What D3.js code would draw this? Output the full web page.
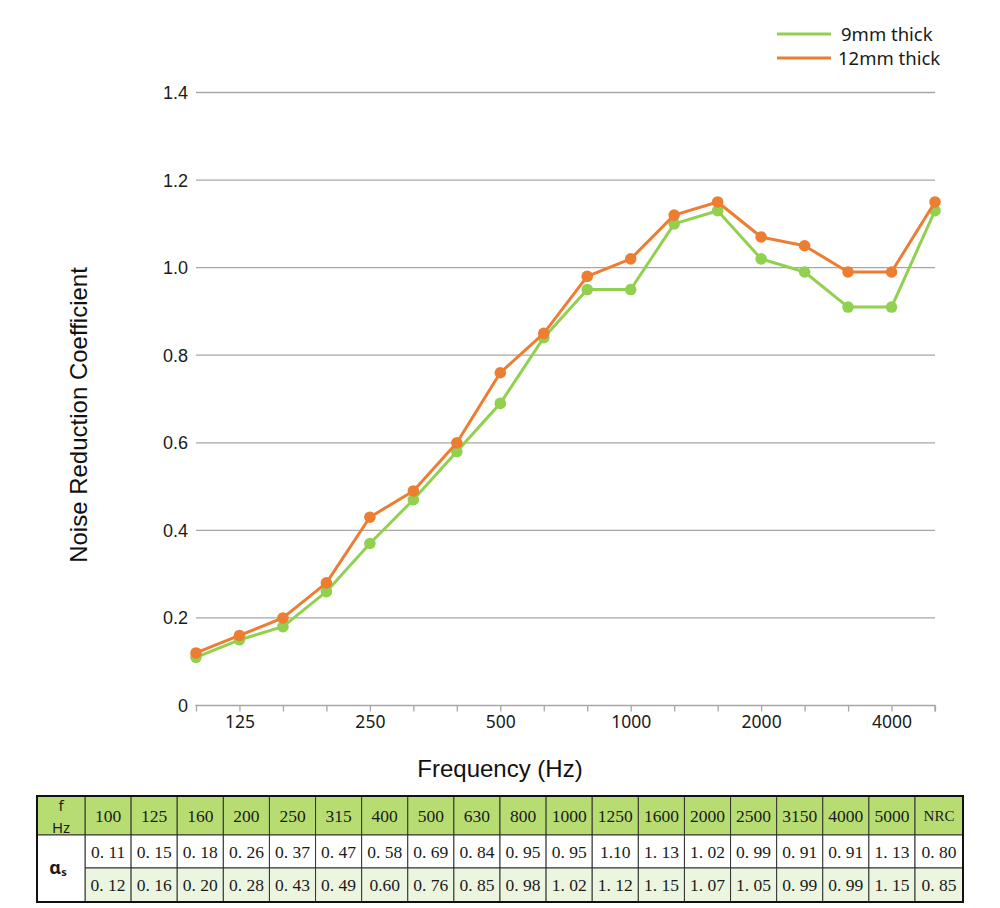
<!DOCTYPE html>
<html><head><meta charset="utf-8">
<script src="https://cdn.jsdelivr.net/npm/d3@7/dist/d3.min.js"></script>
<style>body{margin:0;background:#fff}svg{display:block}</style>
</head><body>
<svg id="c" width="1000" height="908"></svg>
<script>
const freqs = ["100","125","160","200","250","315","400","500","630","800","1000","1250","1600","2000","2500","3150","4000","5000"];
const thick9 = [0.11,0.15,0.18,0.26,0.37,0.47,0.58,0.69,0.84,0.95,0.95,1.10,1.13,1.02,0.99,0.91,0.91,1.13];
const thick12 = [0.12,0.16,0.20,0.28,0.43,0.49,0.60,0.76,0.85,0.98,1.02,1.12,1.15,1.07,1.05,0.99,0.99,1.15];
const xTickLabels = ["125","250","500","1000","2000","4000"];
const yTicks = [0,0.2,0.4,0.6,0.8,1.0,1.2,1.4];
const row9Text = ["0. 11","0. 15","0. 18","0. 26","0. 37","0. 47","0. 58","0. 69","0. 84","0. 95","0. 95","1.10","1. 13","1. 02","0. 99","0. 91","0. 91","1. 13","0. 80"];
const row12Text = ["0. 12","0. 16","0. 20","0. 28","0. 43","0. 49","0.60","0. 76","0. 85","0. 98","1. 02","1. 12","1. 15","1. 07","1. 05","0. 99","0. 99","1. 15","0. 85"];
const seriesNames = ["9mm thick","12mm thick"];
const colors = ["#92d050","#ed7d31"];

const svg = d3.select("#c");
const x = d3.scalePoint().domain(freqs).range([196,935]);
const y = d3.scaleLinear().domain([0,1.4]).range([705.5,92.5]);

// gridlines
svg.append("g").selectAll("line").data(yTicks.filter(d=>d>0)).join("line")
  .attr("x1",196).attr("x2",935).attr("y1",d=>y(d)).attr("y2",d=>y(d))
  .attr("stroke","#a6a6a6").attr("stroke-width",1.3);

// y labels
svg.append("g").selectAll("text").data(yTicks).join("text")
  .attr("x",188).attr("y",d=>y(d)).attr("dy","0.36em").attr("text-anchor","end")
  .attr("font-family","Liberation Sans, Arial, sans-serif").attr("font-size",18).attr("fill","#1a1a1a")
  .text(d=>d===0?"0":d.toFixed(1));

// x axis
const xAxis = d3.axisBottom(x).tickSize(6).tickFormat(d=>xTickLabels.includes(d)?d:"");
const gx = svg.append("g").attr("transform","translate(0,705.5)").call(xAxis);
gx.select(".domain").attr("stroke","#a6a6a6").attr("stroke-width",1.3).attr("d","M196,0.5V0H935V6");
gx.selectAll(".tick line").attr("stroke","#a6a6a6").attr("stroke-width",1.3);
gx.selectAll(".tick text").attr("font-family","Noto Sans, Open Sans, sans-serif").attr("font-size",17.5).attr("fill","#1a1a1a").attr("y",10);

// lines
const series = [thick9, thick12];
const line = d3.line().x((d,i)=>x(freqs[i])).y(d=>y(d));
series.forEach((s,k)=>{
  const g = svg.append("g");
  g.append("path").datum(s).attr("d",line).attr("fill","none").attr("stroke",colors[k]).attr("stroke-width",3).attr("stroke-linejoin","round");
  g.selectAll("circle").data(s).join("circle").attr("cx",(d,i)=>x(freqs[i])).attr("cy",d=>y(d)).attr("r",5.8).attr("fill",colors[k]);
});

// axis titles
svg.append("text").attr("x",500).attr("y",777).attr("text-anchor","middle")
  .attr("font-family","Liberation Sans, Arial, sans-serif").attr("font-size",24).attr("fill","#111").text("Frequency (Hz)");
svg.append("text").attr("transform","translate(87,415) rotate(-90)").attr("text-anchor","middle")
  .attr("font-family","Liberation Sans, Arial, sans-serif").attr("font-size",24).attr("fill","#111").text("Noise Reduction Coefficient");

// legend
seriesNames.forEach((n,k)=>{
  const yy = 34 + k*24;
  svg.append("line").attr("x1",777).attr("x2",831).attr("y1",yy).attr("y2",yy).attr("stroke",colors[k]).attr("stroke-width",3);
  svg.append("text").attr("x",k===0?841:838).attr("y",yy).attr("dy","0.36em")
    .attr("font-family","Noto Sans, Open Sans, sans-serif").attr("font-size",18.5).attr("fill","#1a1a1a").text(n);
});

// table
const tx0 = 37, tx1 = 963, colW = (915-85)/18;
const cols = freqs.concat(["NRC"]);
const colX = i => 85 + i*colW;
const colWidth = i => i<18 ? colW : 963-915;
const rows = [{y:796,h:39,fill:"#b7dd72",texts:cols},{y:835,h:33,fill:"#ffffff",texts:row9Text},{y:868,h:34,fill:"#ebf5df",texts:row12Text}];
const tg = svg.append("g");
rows.forEach(r=>{
  tg.append("g").selectAll("rect").data(r.texts).join("rect")
    .attr("x",(d,i)=>colX(i)).attr("y",r.y).attr("width",(d,i)=>colWidth(i)).attr("height",r.h)
    .attr("fill",r.fill).attr("stroke","#333").attr("stroke-width",1);
  tg.append("g").selectAll("text").data(r.texts).join("text")
    .attr("x",(d,i)=>colX(i)+colWidth(i)/2).attr("y",r.y+r.h/2).attr("dy","0.36em").attr("text-anchor","middle")
    .attr("font-family","Liberation Serif, Times New Roman, serif").attr("font-size",d=>d==="NRC"?15:17.5).attr("fill","#1a1a1a")
    .text(d=>d);
});
// first column
tg.append("rect").attr("x",tx0).attr("y",796).attr("width",85-tx0).attr("height",39).attr("fill","#b7dd72").attr("stroke","#333").attr("stroke-width",1);
tg.append("rect").attr("x",tx0).attr("y",835).attr("width",85-tx0).attr("height",67).attr("fill","#fff").attr("stroke","#333").attr("stroke-width",1);
tg.append("text").attr("x",61).attr("y",811).attr("text-anchor","middle").attr("font-family","Noto Sans, Open Sans, sans-serif").attr("font-size",15).attr("fill","#1a1a1a").text("f");
tg.append("text").attr("x",61).attr("y",833).attr("text-anchor","middle").attr("font-family","Noto Sans, Open Sans, sans-serif").attr("font-size",15).attr("fill","#1a1a1a").text("Hz");
const al = tg.append("text").attr("x",58).attr("y",874).attr("text-anchor","middle").attr("font-family","Noto Sans, Open Sans, sans-serif").attr("font-size",18).attr("font-weight","bold").attr("fill","#1a1a1a");
al.append("tspan").text("α");
al.append("tspan").attr("font-size",11).attr("dy",2).text("s");
// outer border
tg.append("rect").attr("x",tx0).attr("y",796).attr("width",tx1-tx0).attr("height",106).attr("fill","none").attr("stroke","#111").attr("stroke-width",2);
</script>
</body></html>
